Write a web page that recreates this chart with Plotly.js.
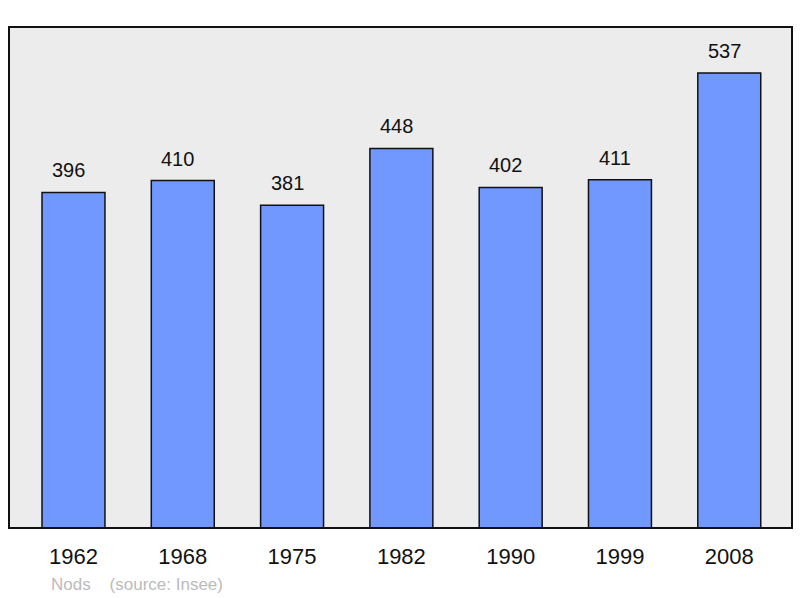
<!DOCTYPE html>
<html>
<head>
<meta charset="utf-8">
<script src="https://cdn.plot.ly/plotly-3.0.1.min.js"></script>
<style>html,body{margin:0;padding:0;background:#fff;}#chart{width:800px;height:598px;}</style>
</head>
<body>
<div id="chart"></div>
<script>
const years = ["1962", "1968", "1975", "1982", "1990", "1999", "2008"];
const population = [396, 410, 381, 448, 402, 411, 537];
const commune = "Nods";
const source = "(source: Insee)";

const trace = {
  type: "bar",
  x: years,
  y: population,
  width: 0.576,
  marker: { color: "#7098ff", line: { color: "#111", width: 1.5 } },
  hoverinfo: "none"
};

const annotations = years.map((yr, i) => ({
  x: i, y: population[i], xref: "x", yref: "y",
  text: String(population[i]), showarrow: false,
  yanchor: "bottom", yshift: 9, xshift: -5,
  font: { family: "Liberation Sans, Arial, sans-serif", size: 20, color: "#111" }
}));
annotations.push({
  xref: "paper", yref: "paper", x: 0.0505, y: -0.112, xanchor: "left", yanchor: "middle",
  text: commune + "&nbsp;&nbsp;&nbsp;&nbsp;" + source, showarrow: false,
  font: { family: "Liberation Sans, Arial, sans-serif", size: 17, color: "#bbbbbb" }
});

const layout = {
  width: 800, height: 598,
  margin: { l: 9, r: 8, t: 27, b: 70 },
  paper_bgcolor: "#ffffff",
  plot_bgcolor: "#ececec",
  showlegend: false,
  xaxis: {
    type: "category",
    range: [-0.59, 6.574],
    showgrid: false, zeroline: false, showline: false, ticks: "",
    tickfont: { family: "Liberation Sans, Arial, sans-serif", size: 22, color: "#111" },
    ticklabelstandoff: 13
  },
  yaxis: {
    range: [0, 591.3],
    showgrid: false, zeroline: false, showline: false, showticklabels: false, ticks: ""
  },
  shapes: [{
    type: "rect", xref: "paper", yref: "paper", x0: 0, x1: 1, y0: 0, y1: 1,
    line: { color: "#111", width: 2 }, layer: "above"
  }],
  annotations: annotations
};

Plotly.newPlot("chart", [trace], layout, { staticPlot: true });
</script>
</body>
</html>
